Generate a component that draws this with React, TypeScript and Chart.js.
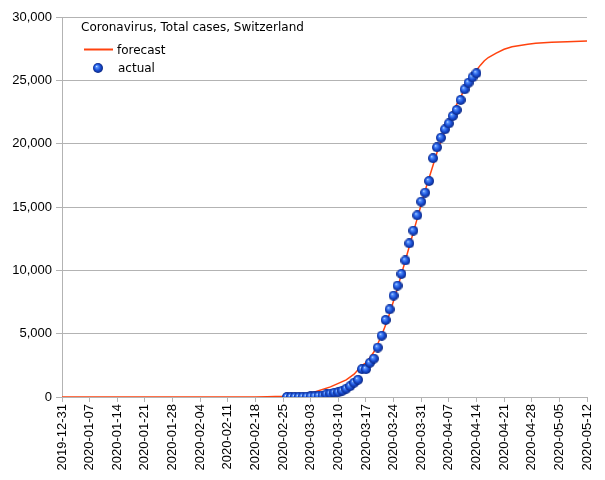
import React, { useEffect, useRef } from "react";
import { Chart, registerables } from "chart.js";

Chart.register(...registerables);

// x values are day offsets from 2019-12-31
const tickLabels = [
  "2019-12-31", "2020-01-07", "2020-01-14", "2020-01-21", "2020-01-28",
  "2020-02-04", "2020-02-11", "2020-02-18", "2020-02-25", "2020-03-03",
  "2020-03-10", "2020-03-17", "2020-03-24", "2020-03-31", "2020-04-07",
  "2020-04-14", "2020-04-21", "2020-04-28", "2020-05-05", "2020-05-12",
];

const actualDays = [
  57, 58, 59, 60, 61, 62, 63, 64, 65, 66, 67, 68, 69, 70, 71, 72, 73, 74, 75,
  76, 77, 78, 79, 80, 81, 82, 83, 84, 85, 86, 87, 88, 89, 90, 91, 92, 93, 94,
  95, 96, 97, 98, 99, 100, 101, 102, 103, 104, 105,
];
const actualValues = [
  1, 1, 8, 8, 18, 27, 42, 56, 90, 114, 214, 268, 337, 374, 491, 652, 858, 1125, 1359,
  2200, 2200, 2700, 3028, 3900, 4840, 6080, 6920, 8000, 8790, 9720, 10780, 12130, 13130, 14340, 15420, 16130, 17050, 18850,
  19710, 20470, 21130, 21600, 22180, 22660, 23450, 24290, 24810, 25240, 25560,
];

const forecastDays = [
  0, 45, 49, 52, 56, 60, 64, 68, 72, 74, 76, 77, 78, 79, 80, 81, 82, 83, 84, 85,
  86, 87, 88, 89, 90, 91, 92, 93, 94, 95, 96, 97, 98, 99, 100, 101, 102, 103,
  104, 105, 106, 107, 108, 110, 112, 114, 116, 118, 120, 124, 128, 133,
];
const forecastValues = [
  0, 0, 5, 20, 60, 150, 400, 800, 1350, 1800, 2500, 2700, 3100, 3550, 4200, 4900, 5700, 6600, 7600, 8600,
  9700, 10800, 11900, 13000, 14100, 15200, 16300, 17300, 18300, 19300, 20200, 21000, 21800, 22500, 23100, 23700, 24300, 24900,
  25400, 25800, 26200, 26550, 26800, 27150, 27450, 27650, 27750, 27850, 27920, 28000, 28050, 28100,
];

const chartTitle = "Coronavirus, Total cases, Switzerland";
const seriesNames = ["forecast", "actual"];

const LINE_COLOR = "#ff420e";
const GRID_COLOR = "#b3b3b3";
const TICK_FONT = { family: '"Liberation Sans", Arial, sans-serif', size: 13 };

function makeBall(size: number): HTMLCanvasElement {
  const c = document.createElement("canvas");
  c.width = size;
  c.height = size;
  const g = c.getContext("2d")!;
  const r = size / 2;
  const grad = g.createRadialGradient(r * 0.7, r * 0.65, 0, r, r, r);
  grad.addColorStop(0, "#e6f0ff");
  grad.addColorStop(0.2, "#5a96ff");
  grad.addColorStop(0.6, "#1a4fd6");
  grad.addColorStop(1, "#0a2580");
  g.fillStyle = grad;
  g.beginPath();
  g.arc(r, r, r, 0, Math.PI * 2);
  g.fill();
  return c;
}

export default function App() {
  const ref = useRef<HTMLCanvasElement | null>(null);

  useEffect(() => {
    document.body.style.margin = "0";
    const ball = makeBall(10);
    const legendBall = makeBall(10);

    const legendPlugin = {
      id: "customLegend",
      afterDraw(chart: any) {
        const ctx = chart.ctx;
        ctx.save();
        ctx.fillStyle = "#000";
        ctx.textBaseline = "alphabetic";
        ctx.textAlign = "left";
        ctx.font = '12px "DejaVu Sans", sans-serif';
        ctx.fillText(chartTitle, 81, 31);
        ctx.strokeStyle = LINE_COLOR;
        ctx.lineWidth = 2;
        ctx.beginPath();
        ctx.moveTo(84, 49.5);
        ctx.lineTo(113, 49.5);
        ctx.stroke();
        ctx.fillText(seriesNames[0], 117, 54);
        ctx.drawImage(legendBall, 93, 63);
        ctx.fillText(seriesNames[1], 118, 72);
        ctx.restore();
      },
    };

    const chart = new Chart(ref.current!, {
      type: "line",
      data: {
        datasets: [
          {
            label: seriesNames[1],
            data: actualDays.map((d, i) => ({ x: d, y: actualValues[i] })),
            showLine: false,
            pointStyle: ball as any,
            pointRadius: 5,
            borderColor: "#1a4fd6",
            backgroundColor: "#1a4fd6",
          },
          {
            label: seriesNames[0],
            data: forecastDays.map((d, i) => ({ x: d, y: forecastValues[i] })),
            borderColor: LINE_COLOR,
            borderWidth: 1.5,
            pointRadius: 0,
            tension: 0,
            fill: false,
          },
        ],
      },
      options: {
        animation: false,
        responsive: false,
        events: [],
        layout: { padding: { top: 17, right: 18, left: 0, bottom: 0 } },
        plugins: {
          legend: { display: false },
          tooltip: { enabled: false },
          title: { display: false },
        },
        scales: {
          x: {
            type: "linear",
            min: 0,
            max: 133,
            afterFit(scale: any) {
              scale.height = 83;
            },
            afterBuildTicks(scale: any) {
              scale.ticks = tickLabels.map((_, i) => ({ value: i * 7 }));
            },
            ticks: {
              autoSkip: false,
              minRotation: 90,
              maxRotation: 90,
              padding: 2,
              color: "#000",
              font: TICK_FONT,
              callback: (v: any) => tickLabels[Math.round(Number(v) / 7)] ?? "",
            },
            grid: {
              drawOnChartArea: false,
              drawTicks: true,
              tickLength: 5,
              color: GRID_COLOR,
            },
            border: { color: GRID_COLOR },
          },
          y: {
            min: 0,
            max: 30000,
            afterFit(scale: any) {
              scale.width = 62;
            },
            ticks: {
              stepSize: 5000,
              padding: 4,
              color: "#000",
              font: TICK_FONT,
              callback: (v: any) => Number(v).toLocaleString("en-US"),
            },
            grid: {
              color: GRID_COLOR,
              tickLength: 6,
            },
            border: { color: GRID_COLOR },
          },
        },
      },
      plugins: [legendPlugin],
    } as any);

    return () => chart.destroy();
  }, []);

  return (
    <div style={{ width: 605, height: 480, background: "#fff" }}>
      <canvas ref={ref} width={605} height={480} style={{ display: "block" }} />
    </div>
  );
}
